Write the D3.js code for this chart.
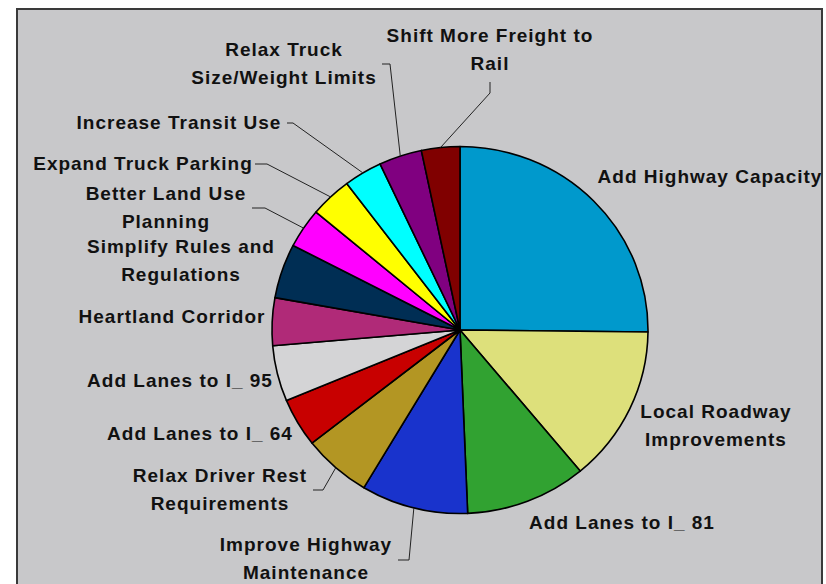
<!DOCTYPE html>
<html>
<head>
<meta charset="utf-8">
<script src="https://cdn.jsdelivr.net/npm/d3@7"></script>
<style>
  html, body { margin: 0; padding: 0; background: #ffffff; }
  svg { display: block; }
  .lbl { font-family: "Liberation Sans", Arial, sans-serif; font-weight: bold; font-size: 19px; letter-spacing: 1px; fill: #111; }
</style>
</head>
<body>
<script>
// Survey responses: share of mentions per improvement (percent)
const categories = [
  "Add Highway Capacity",
  "Local Roadway Improvements",
  "Add Lanes to I_ 81",
  "Improve Highway Maintenance",
  "Relax Driver Rest Requirements",
  "Add Lanes to I_ 64",
  "Add Lanes to I_ 95",
  "Heartland Corridor",
  "Simplify Rules and Regulations",
  "Better Land Use Planning",
  "Expand Truck Parking",
  "Increase Transit Use",
  "Relax Truck Size/Weight Limits",
  "Shift More Freight to Rail"
];
const shares = [25.2, 13.8, 10.4, 9.2, 5.9, 4.3, 4.9, 4.2, 4.8, 3.5, 3.6, 3.3, 3.7, 3.3];
const colors = [
  "#0099cc", "#dde07b", "#31a231", "#1933cc", "#b39623", "#c80000", "#d4d4d6",
  "#b02a78", "#002e54", "#ff00ff", "#ffff00", "#00ffff", "#800080", "#800000"
];
// Label text split into lines
const labelLines = [
  ["Add Highway Capacity"],
  ["Local Roadway", "Improvements"],
  ["Add Lanes to I_ 81"],
  ["Improve Highway", "Maintenance"],
  ["Relax Driver Rest", "Requirements"],
  ["Add Lanes to I_ 64"],
  ["Add Lanes to I_ 95"],
  ["Heartland Corridor"],
  ["Simplify Rules and", "Regulations"],
  ["Better Land Use", "Planning"],
  ["Expand Truck Parking"],
  ["Increase Transit Use"],
  ["Relax Truck", "Size/Weight Limits"],
  ["Shift More Freight to", "Rail"]
];

// Layout: label anchor (centre x, first baseline) and leader-line bends
const labelAnchors = [
  [710, 183], [716, 418], [622, 529], [306, 551], [220, 482], [200, 440], [180, 387],
  [172, 323], [181, 253], [166, 200], [143, 170], [179, 129], [284, 56], [490, 42]
];
const leaderBends = {
  3: [[409, 560], [398, 560]],
  4: [[323, 490], [313, 490]],
  9: [[265, 208], [252, 208]],
  10: [[267, 164], [255, 164]],
  11: [[293, 123], [287, 123]],
  12: [[390, 64], [382, 64]],
  13: [[490, 93], [490, 82]]
};

const W = 826, H = 584;
const cx = 460, cy = 330, rx = 188, ry = 183.5;
const lineH = 27.5;

const svg = d3.select("body").append("svg").attr("width", W).attr("height", H);

// Plot area
svg.append("rect")
  .attr("x", 17).attr("y", 9).attr("width", 805).attr("height", 590)
  .attr("fill", "#c8c8ca").attr("stroke", "#3a3a3a").attr("stroke-width", 2);

const data = categories.map((c, i) => ({ name: c, value: shares[i], color: colors[i], i }));
const pie = d3.pie().sort(null).value(d => d.value).startAngle(0).endAngle(2 * Math.PI);
const arcs = pie(data);
const arc = d3.arc().innerRadius(0).outerRadius(rx);

const g = svg.append("g").attr("transform", `translate(${cx},${cy}) scale(1,${ry / rx})`);
g.selectAll("path.slice")
  .data(arcs)
  .join("path")
  .attr("class", "slice")
  .attr("d", arc)
  .attr("fill", d => d.data.color)
  .attr("stroke", "#000")
  .attr("stroke-width", 1.6)
  .attr("stroke-linejoin", "round")
  .attr("vector-effect", "non-scaling-stroke");

// Leader lines from the rim at each slice's mid-angle
const leaders = svg.append("g");
arcs.forEach(a => {
  const bends = leaderBends[a.data.i];
  if (!bends) return;
  const mid = (a.startAngle + a.endAngle) / 2;
  const start = [cx + rx * Math.sin(mid), cy - ry * Math.cos(mid)];
  leaders.append("path")
    .attr("d", d3.line()([start, ...bends]))
    .attr("fill", "none")
    .attr("stroke", "#222")
    .attr("stroke-width", 1);
});

// Labels
const labels = svg.append("g");
data.forEach(d => {
  const [x, y] = labelAnchors[d.i];
  const t = labels.append("text").attr("class", "lbl").attr("text-anchor", "middle");
  labelLines[d.i].forEach((line, k) => {
    t.append("tspan").attr("x", x).attr("y", y + k * lineH).text(line);
  });
});
</script>
</body>
</html>
